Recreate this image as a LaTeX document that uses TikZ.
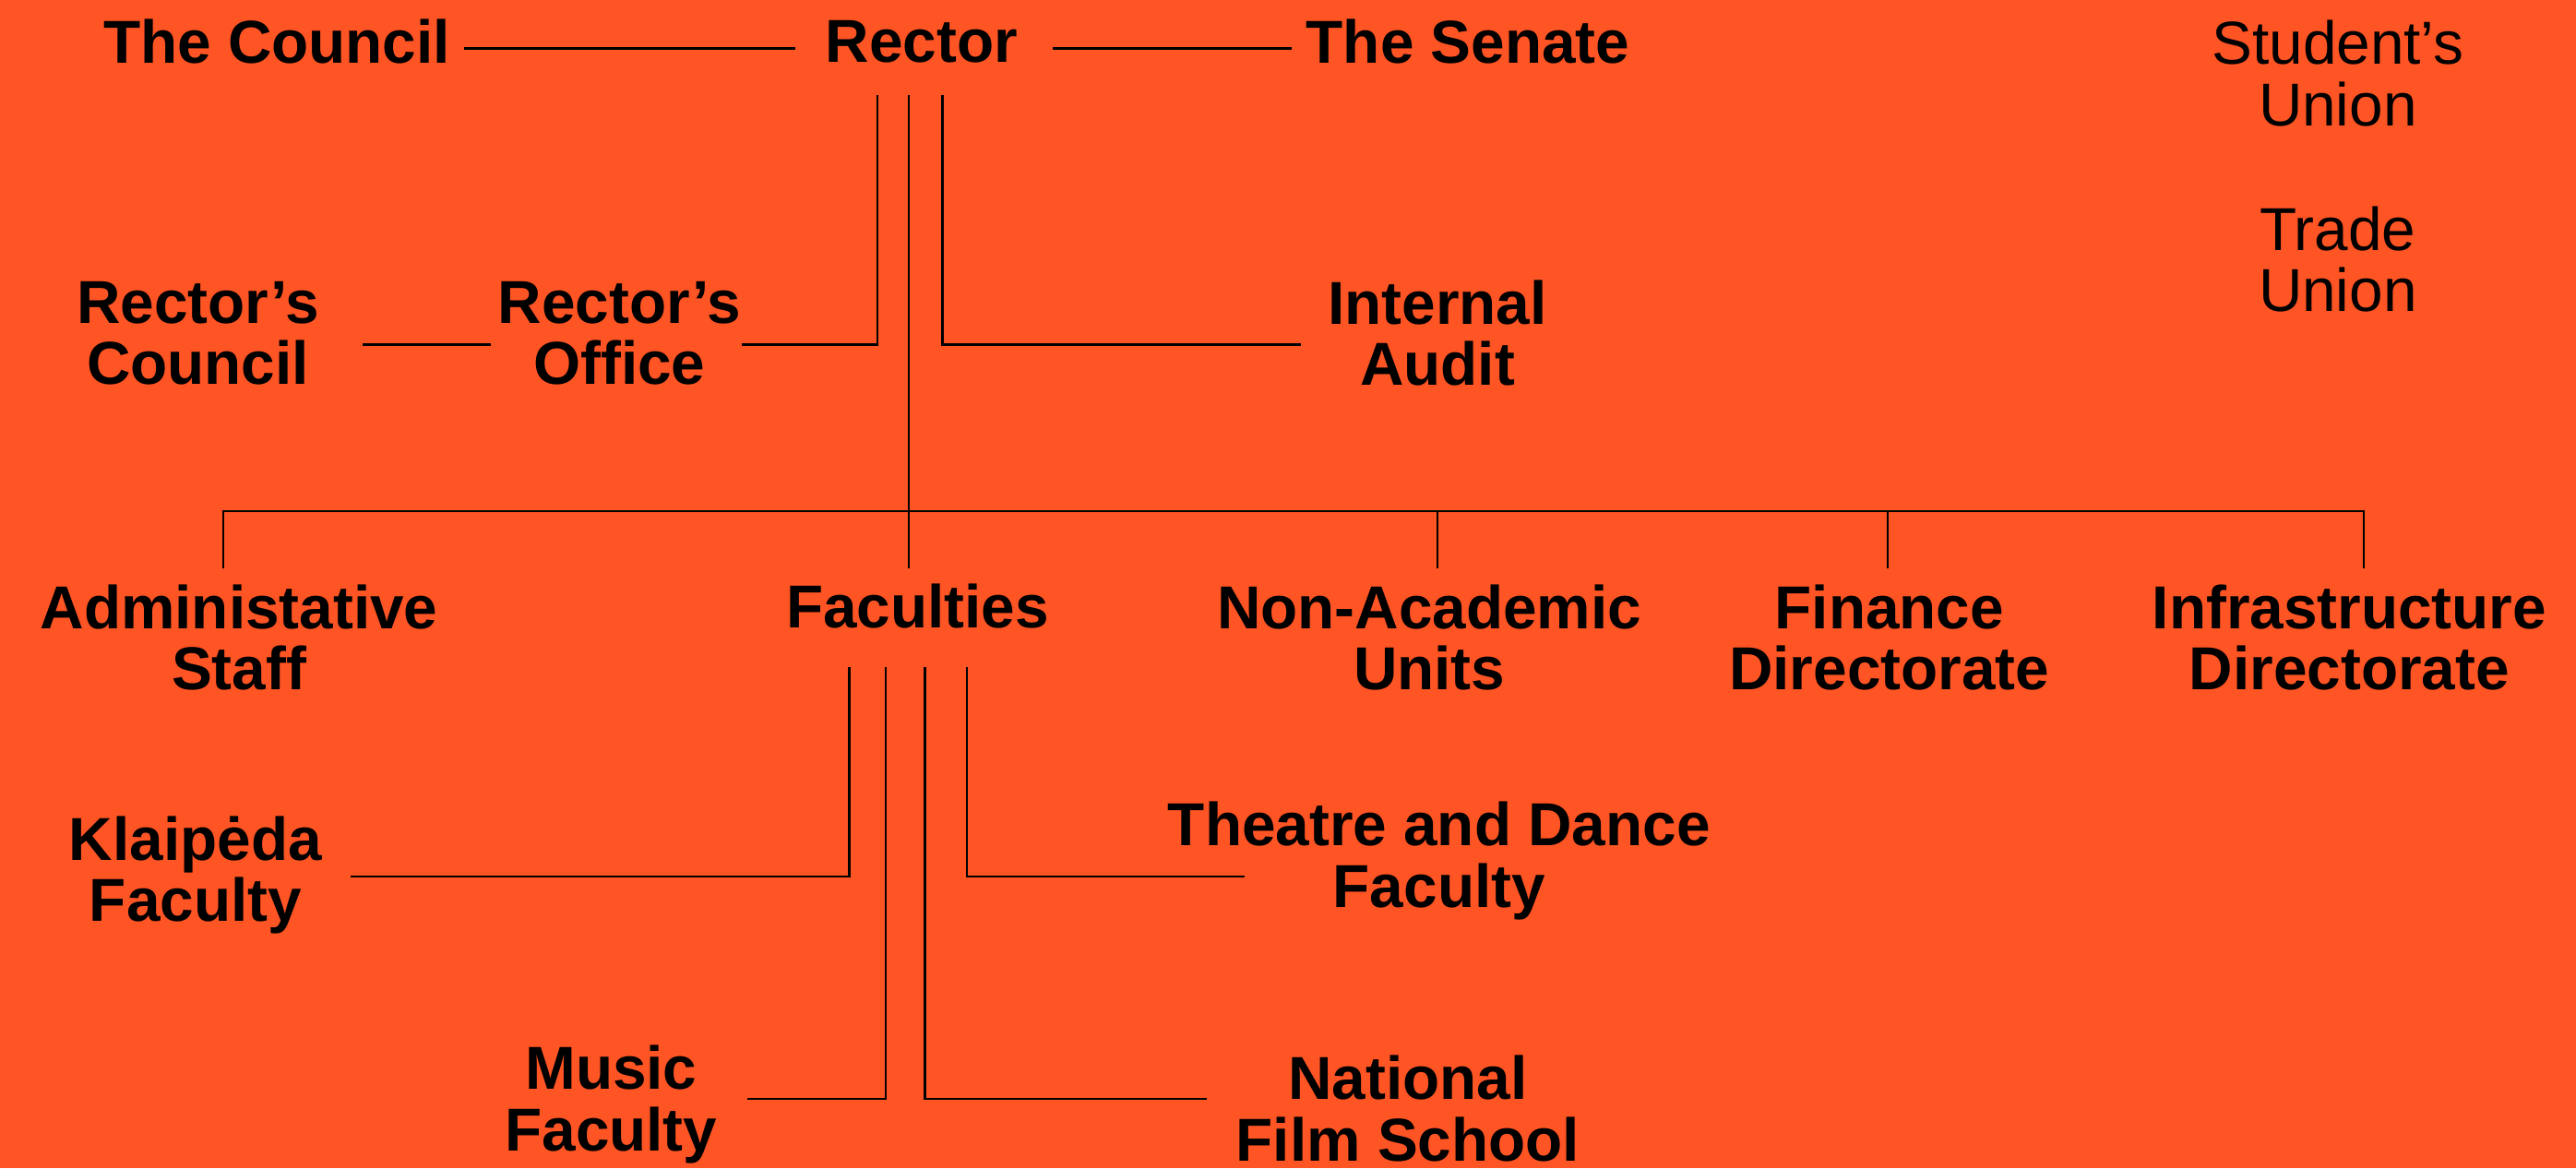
\documentclass[tikz,border=0pt]{standalone}
\usepackage{fontspec}
\setmainfont{Liberation Sans}
\usepackage{tikz}
\definecolor{orgbg}{RGB}{255,84,36}

\begin{document}
\begin{tikzpicture}
[x=0.02cm,y=-0.02cm,line width=0.7pt,
 unit/.style={font=\bfseries,align=center,inner sep=0pt},
 union/.style={font=\mdseries,align=center,inner sep=0pt}]
\fontsize{21}{21.3}\selectfont
\fill[orgbg] (0,0) rectangle (1568,711);
\useasboundingbox (0,0) rectangle (1568,711);
\node[unit] (council) at (168.5,25.5) {The Council};
\node[unit] (rector) at (561,25.5) {Rector};
\node[unit] (senate) at (893.5,25.5) {The Senate};
\node[union] (students) at (1423,44.7) {Student’s\\Union};
\node[union] (trade) at (1423,157.8) {Trade\\Union};
\node[unit] (rcouncil) at (120.5,202.8) {Rector’s\\Council};
\node[unit] (office) at (377,202.8) {Rector’s\\Office};
\node[unit] (audit) at (875,202.8) {Internal\\Audit};
\node[unit] (admin) at (145.5,388) {Administative\\Staff};
\node[unit] (faculties) at (558.5,369) {Faculties};
\node[unit] (nonacad) at (870,388) {Non-Academic\\Units};
\node[unit] (finance) at (1150,388) {Finance\\Directorate};
\node[unit] (infra) at (1430,388) {Infrastructure\\Directorate};
\node[unit] (klaipeda) at (119,532.7) {Klaipėda\\Faculty};
\node[unit] (theatre) at (876,523.9) {Theatre and Dance\\Faculty};
\node[unit] (music) at (372,672.2) {Music\\Faculty};
\node[unit] (film) at (857,674.8) {National\\Film School};
\coordinate (bus) at (553,311.3);

\draw ([shift={(8,4)}]council.east) -- ([shift={(-18,4)}]rector.west);
\draw ([shift={(21,4)}]rector.east) -- ([shift={(-8,4)}]senate.west);
\draw ([shift={(26,7)}]rcouncil.east) -- ([shift={(-4,7)}]office.west);
\draw ([shift={(-27,19)}]rector.south) |- ([shift={(0,7)}]office.east);
\draw ([shift={(12.7,19)}]rector.south) |- ([shift={(-16,7)}]audit.west);
\draw ([shift={(-8,19)}]rector.south) -- ([shift={(-5.5,-9)}]faculties.north);
\draw ([shift={(-9.5,-9)}]admin.north) |- (bus) -| ([shift={(9,-9)}]infra.north);
\draw ([shift={(5,-9)}]nonacad.north) -- ++(0,-35.7);
\draw ([shift={(-1,-9)}]finance.north) -- ++(0,-35.7);
\draw ([shift={(-41.5,23)}]faculties.south) |- ([shift={(17,1)}]klaipeda.east);
\draw ([shift={(30,23)}]faculties.south) |- ([shift={(47,9.6)}]theatre.west);
\draw ([shift={(-19.5,23)}]faculties.south) |- ([shift={(17.5,-3.2)}]music.east);
\draw ([shift={(4.5,23)}]faculties.south) |- ([shift={(-17,-5.8)}]film.west);
\end{tikzpicture}
\end{document}
